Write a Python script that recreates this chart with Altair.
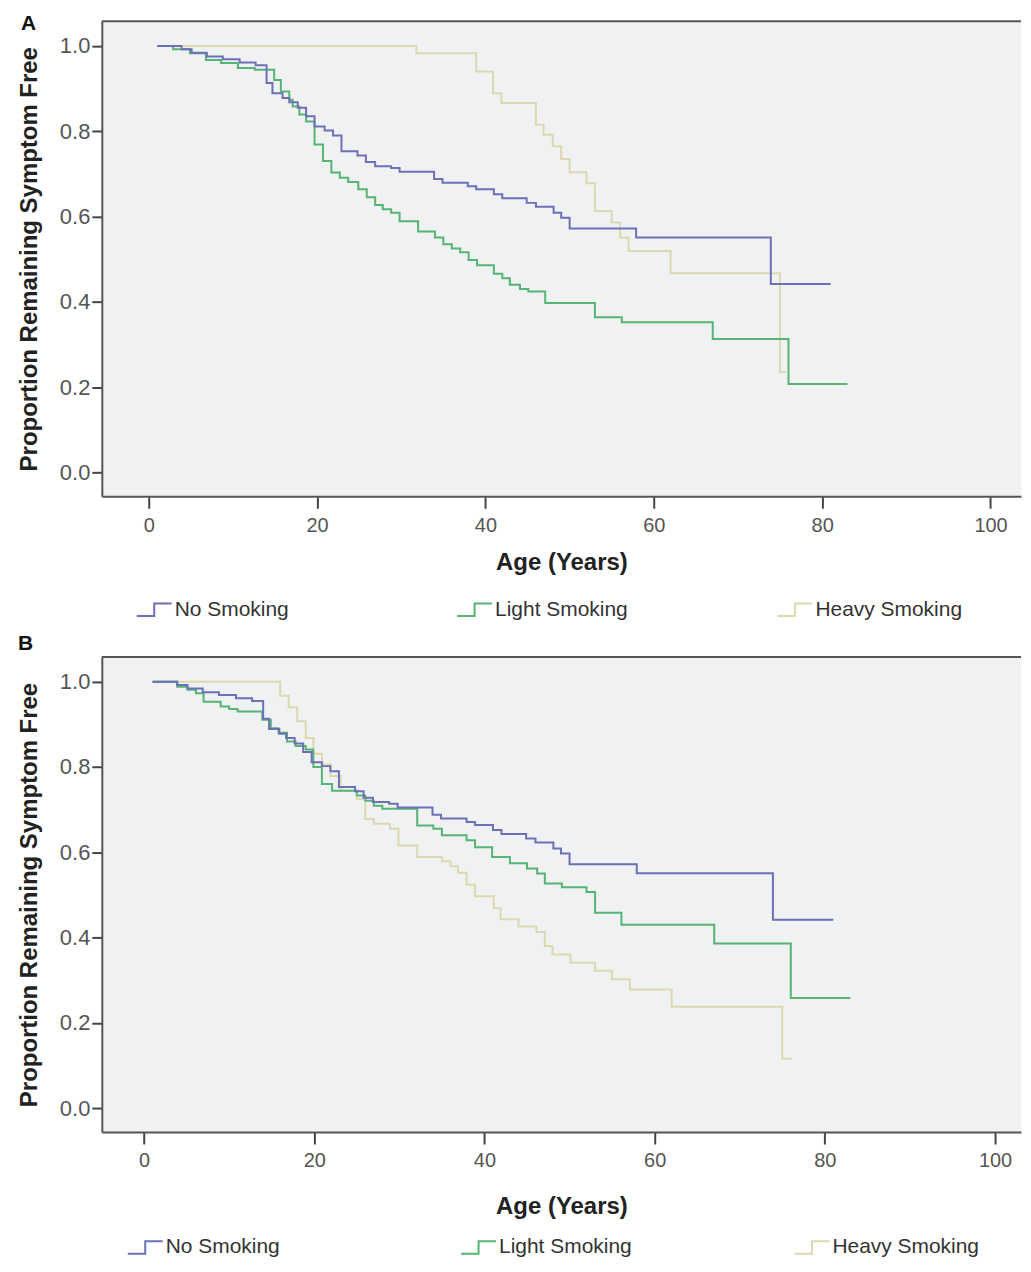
import altair as alt
import pandas as pd

groups = ["No Smoking", "Light Smoking", "Heavy Smoking"]
colors = ["#6c70b6", "#56b474", "#dcd9ae"]

x_ticks = [0, 20, 40, 60, 80, 100]
y_ticks = [0.0, 0.2, 0.4, 0.6, 0.8, 1.0]

# No Smoking (same reference group in both panels)
no_age = [1.0, 3.9, 5.1, 6.9, 8.8, 10.8, 12.7, 14.0, 14.7, 15.9, 16.7, 17.7, 18.7, 19.7,
          20.9, 21.9, 22.9, 24.8, 25.8, 26.9, 28.8, 29.8, 33.9, 34.9, 37.9, 38.9, 41.0,
          42.0, 44.9, 46.0, 48.1, 49.0, 50.0, 57.9, 73.9, 81.0]
no_surv = [1.0, 0.992, 0.984, 0.975, 0.969, 0.961, 0.955, 0.913, 0.889, 0.878, 0.868,
           0.855, 0.835, 0.811, 0.802, 0.790, 0.753, 0.743, 0.728, 0.718, 0.714, 0.705,
           0.688, 0.679, 0.671, 0.664, 0.652, 0.643, 0.632, 0.623, 0.609, 0.597, 0.572,
           0.551, 0.442, 0.442]

# Panel A
light_a_age = [1.0, 2.9, 4.9, 6.8, 8.6, 10.6, 12.6, 14.9, 15.7, 16.7, 17.1, 17.9, 18.7,
               19.7, 20.7, 21.7, 22.7, 23.7, 24.9, 25.9, 26.9, 27.8, 28.8, 29.8, 32.0,
               34.0, 35.0, 36.0, 37.0, 38.0, 39.0, 41.0, 42.0, 42.9, 44.1, 45.1, 47.1,
               53.0, 56.2, 67.0, 76.0, 83.0]
light_a_surv = [1.0, 0.992, 0.983, 0.967, 0.960, 0.948, 0.944, 0.92, 0.893, 0.874, 0.858,
                0.839, 0.823, 0.769, 0.730, 0.703, 0.691, 0.681, 0.664, 0.645, 0.627,
                0.617, 0.609, 0.589, 0.565, 0.551, 0.535, 0.525, 0.516, 0.498, 0.486,
                0.466, 0.455, 0.440, 0.430, 0.424, 0.397, 0.364, 0.352, 0.313, 0.207, 0.207]
heavy_a_age = [1.0, 31.8, 38.9, 40.9, 41.9, 46.0, 46.9, 48.0, 49.0, 50.0, 52.0, 53.0,
               55.0, 56.0, 57.0, 62.0, 75.0, 75.7]
heavy_a_surv = [1.0, 0.983, 0.940, 0.889, 0.866, 0.815, 0.792, 0.765, 0.735, 0.704,
                0.678, 0.613, 0.586, 0.551, 0.519, 0.467, 0.235, 0.235]

# Panel B
light_b_age = [1.0, 3.9, 5.1, 6.1, 7.0, 9.0, 10.0, 11.0, 13.9, 14.9, 15.8, 16.8, 17.8,
               19.0, 19.9, 20.9, 22.1, 25.0, 26.0, 27.0, 28.0, 32.1, 34.0, 35.0, 37.9,
               38.9, 40.9, 43.0, 45.0, 46.2, 47.1, 49.1, 52.0, 53.0, 56.1, 67.0, 76.0, 83.0]
light_b_surv = [1.0, 0.988, 0.981, 0.973, 0.953, 0.942, 0.936, 0.930, 0.911, 0.891,
                0.880, 0.860, 0.849, 0.841, 0.80, 0.76, 0.744, 0.733, 0.721, 0.709,
                0.702, 0.663, 0.655, 0.640, 0.628, 0.612, 0.589, 0.574, 0.562, 0.550,
                0.527, 0.518, 0.507, 0.458, 0.430, 0.386, 0.258, 0.258]
heavy_b_age = [1.0, 16.0, 17.0, 18.0, 19.0, 19.9, 20.9, 21.9, 23.1, 25.0, 26.0, 27.0,
               28.9, 29.9, 32.1, 35.0, 36.0, 36.9, 37.9, 38.9, 41.1, 41.9, 44.0, 46.1,
               47.1, 48.0, 50.1, 53.0, 55.0, 57.1, 62.0, 75.0, 76.1]
heavy_b_surv = [1.0, 0.967, 0.94, 0.907, 0.868, 0.831, 0.806, 0.779, 0.744, 0.725,
                0.678, 0.667, 0.655, 0.616, 0.589, 0.579, 0.567, 0.552, 0.524, 0.497,
                0.469, 0.443, 0.426, 0.413, 0.380, 0.360, 0.341, 0.322, 0.302, 0.278,
                0.238, 0.116, 0.116]

SANS = "Liberation Sans, Arial, sans-serif"
FRAME = "#555555"
PLOT_W = 921
PLOT_H = 476


def series_df(ages, surv, group):
    return pd.DataFrame({"age": ages, "surv": surv, "group": group,
                         "idx": list(range(len(ages)))})


def panel(letter, letter_x, letter_y, xdom, series, legend_x, legend_y, col_pad,
          x_title_pad):
    color_scale = alt.Scale(domain=groups, range=colors)
    legend = alt.Legend(
        title=None, orient="none", legendX=legend_x, legendY=legend_y,
        direction="horizontal", columns=3, gridAlign="all", columnPadding=col_pad,
        symbolType="M-1.4,0.5H0V-0.5H1.4", symbolSize=625, symbolStrokeWidth=2,
        symbolFillColor="transparent",
        labelFont=SANS, labelFontSize=21, labelColor="#333333", labelOffset=7,
        labelLimit=300,
    )
    x = alt.X("age:Q", scale=alt.Scale(domain=xdom, nice=False, zero=False),
              axis=alt.Axis(values=x_ticks, tickSize=12, tickWidth=2, tickColor="#444444",
                            labelFont=SANS, labelFontSize=20, labelColor="#555555",
                            labelPadding=7, domain=True, domainColor=FRAME,
                            domainWidth=2, grid=False,
                            title="Age (Years)", titleFont=SANS, titleFontSize=24,
                            titleFontWeight="bold", titleColor="#222222",
                            titlePadding=x_title_pad))
    y = alt.Y("surv:Q", scale=alt.Scale(domain=[-0.056, 1.058], nice=False, zero=False),
              axis=alt.Axis(values=y_ticks, format=".1f", tickSize=10, tickWidth=2,
                            tickColor="#444444", labelFont=SANS, labelFontSize=22,
                            labelColor="#555555", labelPadding=2, domain=True,
                            domainColor=FRAME, domainWidth=2, grid=False,
                            title="Proportion Remaining Symptom Free", titleFont=SANS,
                            titleFontSize=24, titleFontWeight="bold", titleColor="#222222",
                            titlePadding=18))
    layers = []
    for df in series:
        layers.append(
            alt.Chart(df).mark_line(interpolate="step-after", strokeWidth=2, clip=True)
            .encode(x=x, y=y,
                    color=alt.Color("group:N", scale=color_scale, legend=legend),
                    order="idx:Q")
        )
    top_line = alt.Chart(pd.DataFrame({"k": [0]})).mark_rule(
        color=FRAME, strokeWidth=2
    ).encode(x=alt.value(0), x2=alt.value(PLOT_W), y=alt.value(0))
    lab = alt.Chart(pd.DataFrame({"t": [letter]})).mark_text(
        font=SANS, fontSize=21, fontWeight="bold", color="#111111",
        align="left", baseline="alphabetic"
    ).encode(text="t:N", x=alt.value(letter_x), y=alt.value(letter_y))
    return alt.layer(*layers, top_line, lab).properties(width=PLOT_W, height=PLOT_H)


panel_a = panel(
    "A", -81, 9, [-5.57, 103.62],
    [series_df(heavy_a_age, heavy_a_surv, "Heavy Smoking"),
     series_df(light_a_age, light_a_surv, "Light Smoking"),
     series_df(no_age, no_surv, "No Smoking")],
    39, 576, 131, 15,
)
panel_b = panel(
    "B", -84, -7, [-4.96, 103.05],
    [series_df(heavy_b_age, heavy_b_surv, "Heavy Smoking"),
     series_df(light_b_age, light_b_surv, "Light Smoking"),
     series_df(no_age, no_surv, "No Smoking")],
    30, 578, 144, 24,
)

chart = alt.vconcat(panel_a, panel_b, spacing=11).resolve_scale(
    color="independent"
).properties(
    padding={"left": 8, "top": 3, "right": 0, "bottom": 0},
    background="white",
).configure_view(
    stroke="transparent", fill="#f0f1f3"
)

chart.save("out.html", embed_options={"renderer": "svg", "actions": False})
